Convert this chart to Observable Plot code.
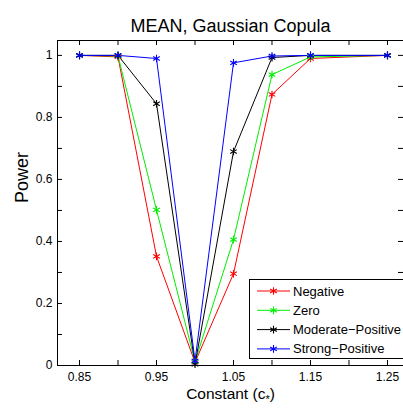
<!DOCTYPE html>
<html><head><meta charset="utf-8">
<script src="https://cdn.jsdelivr.net/npm/d3@7"></script>
<script src="https://cdn.jsdelivr.net/npm/@observablehq/plot@0.6"></script>
<style>
body{margin:0;background:#fff;font-family:"Liberation Sans",Arial,sans-serif}
#wrap{position:relative;width:403px;height:413px;overflow:hidden}
#legend{position:absolute;left:0;top:0}
</style>
</head><body><div id="wrap"></div>
<script>
const title = "MEAN, Gaussian Copula";
const xLabel = "Constant (c*)";
const yLabel = "Power";
const constants = [0.85, 0.9, 0.95, 1.0, 1.05, 1.1, 1.15, 1.25];
const seriesNames = ["Negative", "Zero", "Moderate\u2212Positive", "Strong\u2212Positive"];
const negative = [1, 0.995, 0.352, 0.010, 0.296, 0.874, 0.990, 1];
const zero     = [1, 0.998, 0.502, 0.012, 0.406, 0.938, 0.995, 1];
const moderate = [1, 1.000, 0.844, 0.004, 0.690, 0.993, 1.000, 1];
const strong   = [1, 1.000, 0.990, 0.015, 0.976, 0.998, 1.000, 1];
const colors = ["#ff0000", "#00ee00", "#000000", "#0000ff"];
const xTicks = [0.85, 0.9, 0.95, 1.0, 1.05, 1.1, 1.15, 1.2, 1.25];
const xTickLabels = ["0.85", "", "0.95", "", "1.05", "", "1.15", "", "1.25"];
const yTicks = [0, 0.1, 0.2, 0.3, 0.4, 0.5, 0.6, 0.7, 0.8, 0.9, 1];
const yTickLabels = ["0", "", "0.2", "", "0.4", "", "0.6", "", "0.8", "", "1"];

const seriesValues = [negative, zero, moderate, strong];
const data = seriesValues.flatMap((vals, i) =>
  vals.map((v, j) => ({series: seriesNames[i], x: constants[j], y: v})));

const W = 403, H = 413, mT = 40, mB = 48, mL = 57, mR = 0;
const frameH = H - mT - mB, frameW = W - mL - mR, tick = 5;

const chart = Plot.plot({
  width: W, height: H,
  marginTop: mT, marginBottom: mB, marginLeft: mL, marginRight: mR,
  style: {fontFamily: "Liberation Sans, Arial, sans-serif", fontSize: "12px", color: "#000", background: "#fff", overflow: "visible"},
  x: {domain: [0.8214, 1.2708]},
  y: {domain: [0, 1.048]},
  color: {domain: seriesNames, range: colors},
  marks: [
    Plot.axisX({ticks: xTicks, tickSize: 0, tickPadding: 7, tickFormat: (d, i) => xTickLabels[i], label: null, fontSize: 12}),
    Plot.axisY({ticks: yTicks, tickSize: 0, tickPadding: 5, tickFormat: (d, i) => yTickLabels[i], label: null, fontSize: 12}),
    Plot.ruleX(xTicks, {x: d => d, insetTop: frameH - tick, stroke: "#000"}),
    Plot.ruleX(xTicks, {x: d => d, insetBottom: frameH - tick, stroke: "#000"}),
    Plot.ruleY(yTicks, {y: d => d, insetRight: frameW - tick, stroke: "#000"}),
    Plot.ruleY(yTicks, {y: d => d, insetLeft: frameW - tick, stroke: "#000"}),
    Plot.line(data, {x: "x", y: "y", z: "series", stroke: "series", strokeWidth: 1}),
    Plot.dot(data, {x: "x", y: "y", stroke: "series", symbol: "asterisk", r: 3.6, strokeWidth: 1.1}),
    Plot.frame({stroke: "#000", strokeWidth: 1}),
    Plot.text([title], {frameAnchor: "top", dy: -21, fontSize: 18, fill: "#000"}),
    Plot.text([yLabel], {frameAnchor: "left", dx: -35, rotate: -90, fontSize: 18, fill: "#000"}),
    Plot.text([xLabel], {frameAnchor: "bottom", dy: 33, fontSize: 15.5, fill: "#000"})
  ]
});
const wrap = document.getElementById("wrap");
wrap.appendChild(chart);

// subscript asterisk in x label
d3.select(chart).selectAll("text").filter(function () { return this.textContent === xLabel; })
  .each(function () {
    const t = d3.select(this);
    t.text(null);
    t.append("tspan").text("Constant (c");
    t.append("tspan").attr("dy", 4).attr("font-size", 11).text("*");
    t.append("tspan").attr("dy", -4).text(")");
  });

// legend (MATLAB-style box, lower right)
const lg = d3.select(wrap).append("svg").attr("id", "legend").attr("width", W).attr("height", H);
lg.append("rect").attr("x", 249.5).attr("y", 279.5).attr("width", 160).attr("height", 79)
  .attr("fill", "#fff").attr("stroke", "#000").attr("stroke-width", 1);
const sym = d3.symbol(d3.symbolAsterisk, Math.PI * 3.6 * 3.6)();
seriesNames.forEach((name, i) => {
  const cy = 291 + i * 19.3;
  const g = lg.append("g");
  g.append("line").attr("x1", 257).attr("x2", 290).attr("y1", cy).attr("y2", cy)
    .attr("stroke", colors[i]).attr("stroke-width", 1);
  g.append("path").attr("d", sym).attr("transform", `translate(273.5,${cy})`)
    .attr("fill", "none").attr("stroke", colors[i]).attr("stroke-width", 1.1);
  g.append("text").attr("x", 293).attr("y", cy).attr("dy", "0.35em")
    .attr("font-size", 13).attr("font-family", "Liberation Sans, Arial, sans-serif").text(name);
});
</script>
</body></html>
